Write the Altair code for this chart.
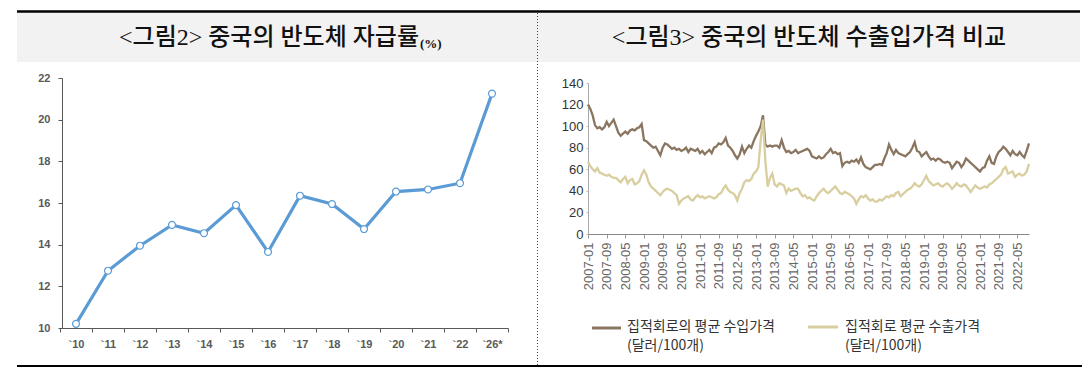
import json
import altair as alt
import pandas as pd

# ---------------- data ----------------
years = ["`10", "`11", "`12", "`13", "`14", "`15", "`16", "`17", "`18", "`19",
         "`20", "`21", "`22", "`26*"]
self_sufficiency = [10.2, 12.75, 13.95, 14.95, 14.55, 15.9, 13.65, 16.35, 15.95,
                    14.75, 16.55, 16.65, 16.95, 21.25]

# monthly, 2007-01 .. 2022-10
import_price = [
    120, 116, 110, 101, 98, 99, 97, 99, 104, 100, 103, 106,
    100, 94, 91, 93, 95, 93, 96, 97, 96, 98, 99, 102,
    87, 86, 84, 82, 80, 81, 77, 73, 80, 84, 83, 81,
    79, 80, 78, 79, 77, 78, 80, 76, 79, 78, 77, 79,
    75, 77, 74, 76, 78, 75, 80, 81, 84, 83, 85, 89,
    82, 80, 77, 73, 70, 74, 81, 75, 79, 82, 80, 86,
    91, 95, 100, 110, 83, 81, 82, 81, 82, 82, 80, 87,
    80, 76, 77, 75, 76, 78, 75, 76, 77, 78, 79, 77,
    72, 71, 70, 72, 70, 71, 74, 76, 79, 75, 76, 74,
    75, 63, 66, 67, 66, 68, 67, 69, 66, 71, 65, 62,
    61, 60, 62, 64, 64, 65, 64, 70, 75, 83, 78, 74,
    78, 75, 74, 73, 72, 74, 76, 80, 85, 77, 76, 72,
    74, 76, 72, 69, 70, 68, 70, 69, 67, 66, 67, 66,
    61, 64, 67, 66, 62, 65, 70, 68, 66, 64, 62, 60,
    58, 61, 62, 68, 72, 66, 65, 72, 76, 78, 81, 79,
    76, 73, 77, 74, 73, 76, 73, 71, 77, 84,
]
export_price = [
    67, 63, 60, 58, 61, 57, 56, 55, 54, 55, 53, 52,
    52, 50, 48, 51, 53, 47, 50, 51, 46, 47, 49, 55,
    59, 55, 48, 44, 42, 40, 38, 36, 39, 41, 42, 41,
    40, 38, 36, 28, 31, 33, 34, 35, 32, 31, 34, 36,
    34, 35, 33, 34, 35, 34, 33, 34, 37, 38, 42, 45,
    41, 39, 38, 36, 31, 38, 42, 48, 50, 49, 51, 56,
    58, 62, 87, 106, 68, 44, 52, 56, 46, 44, 47, 46,
    45, 38, 42, 40, 41, 42, 42, 38, 35, 36, 33, 34,
    32, 31, 35, 38, 40, 42, 39, 38, 40, 42, 44, 41,
    38, 37, 39, 38, 37, 35, 33, 28, 32, 35, 34, 36,
    33, 31, 32, 30, 30, 32, 31, 33, 35, 34, 36, 35,
    38, 39, 35, 37, 39, 41, 42, 44, 47, 45, 44, 46,
    50, 54, 49, 47, 45, 46, 47, 45, 44, 46, 47, 45,
    42, 44, 47, 45, 44, 46, 45, 42, 39, 42, 45, 43,
    42, 43, 44, 43, 46, 47, 49, 51, 53, 55, 60, 62,
    56, 57, 58, 53, 55, 56, 54, 55, 58, 65,
]
month_tick_labels = ["2007-01", "2007-09", "2008-05", "2009-01", "2009-09", "2010-05",
                     "2011-01", "2011-09", "2012-05", "2013-01", "2013-09", "2014-05",
                     "2015-01", "2015-09", "2016-05", "2017-01", "2017-09", "2018-05",
                     "2019-01", "2019-09", "2020-05", "2021-01", "2021-09", "2022-05"]
series_names = ["집적회로의 평균 수입가격", "집적회로 평균 수출가격"]
series_colors = ["#8a7660", "#d8cea0"]
unit_label = "(달러/100개)"
title_left = "<그림2> 중국의 반도체 자급률"
title_left_unit = "(%)"
title_right = "<그림3> 중국의 반도체 수출입가격 비교"

W, H = 1090, 376
CJK = "Noto Sans CJK KR"
TITLE_FONT = "Liberation Serif, Noto Sans CJK KR"

one = pd.DataFrame({"k": [0]})


def text_mark(txt, x, y, size, align="left", baseline="middle", font=CJK, color="#222",
              weight="normal"):
    return alt.Chart(pd.DataFrame({"t": [txt]})).mark_text(
        font=font, fontSize=size, align=align, baseline=baseline, color=color,
        fontWeight=weight
    ).encode(text="t:N", x=alt.value(x), y=alt.value(y))


def hrule(x1, x2, y, color, width):
    return alt.Chart(one).mark_rule(color=color, strokeWidth=width).encode(
        x=alt.value(x1), x2=alt.value(x2), y=alt.value(y))


# ---------------- decorations ----------------
header = alt.Chart(one).mark_rect(color="#f2f2f2").encode(
    x=alt.value(17), x2=alt.value(1080), y=alt.value(13), y2=alt.value(62))
top_line = hrule(17, 1080, 11.5, "black", 2.5)
bottom_line = hrule(17, 1082, 366, "black", 2)
divider = alt.Chart(one).mark_rule(color="#444", strokeWidth=1, strokeDash=[1, 2]).encode(
    x=alt.value(537.5), y=alt.value(13), y2=alt.value(366))

t1 = text_mark(title_left, 419, 38, 24, align="right", font=TITLE_FONT, color="#111",
               weight=500)
t1u = text_mark(title_left_unit, 420, 44, 13, align="left", font=TITLE_FONT, color="#111",
                weight="bold")
t2 = text_mark(title_right, 809, 38, 24, align="center", font=TITLE_FONT, color="#111",
               weight=500)

# legend for right panel
leg = [
    hrule(592, 621, 328, series_colors[0], 3),
    text_mark(series_names[0], 627, 327, 14, color="#333"),
    text_mark(unit_label, 627, 346, 14, color="#333"),
    hrule(808, 838, 327, series_colors[1], 3),
    text_mark(series_names[1], 845, 327, 14, color="#333"),
    text_mark(unit_label, 845, 346, 14, color="#333"),
]

# ---------------- left panel ----------------
left_df = pd.DataFrame({"year": years, "rate": self_sufficiency})
blue = "#5B9BD5"
left = alt.Chart(left_df).mark_line(
    color=blue, strokeWidth=3.2,
    point=alt.OverlayMarkDef(shape="circle", filled=True, fill="white", stroke=blue,
                             strokeWidth=1.2, size=48, opacity=1),
).encode(
    x=alt.X("year:O", sort=years, bandPosition=0.5,
            scale=alt.Scale(type="band", range=[60, 508], paddingInner=0, paddingOuter=0),
            axis=alt.Axis(orient="bottom", offset=-(H - 328), title=None, labelAngle=0,
                          tickBand="extent", tickSize=4, tickColor="#595959",
                          domainColor="#595959", labelColor="#595959", labelFontSize=11,
                          labelFontWeight="bold", labelFont="Liberation Sans",
                          labelPadding=6)),
    y=alt.Y("rate:Q",
            scale=alt.Scale(domain=[10, 22], range=[328, 78], nice=False, zero=False),
            axis=alt.Axis(orient="left", offset=-62, title=None, grid=False,
                          values=[10, 12, 14, 16, 18, 20, 22], tickSize=4,
                          tickColor="#595959", domainColor="#595959",
                          labelColor="#595959", labelFontSize=11, labelFontWeight="bold",
                          labelFont="Liberation Sans", labelPadding=8)),
)

# ---------------- right panel ----------------
n = len(import_price)
right_df = pd.DataFrame({
    "m": list(range(n)) * 2,
    "v": import_price + export_price,
    "s": [series_names[0]] * n + [series_names[1]] * len(export_price),
})
label_expr = json.dumps(month_tick_labels, ensure_ascii=False) + "[round(datum.value / 8)]"
right = alt.Chart(right_df).mark_line(strokeWidth=2.3).encode(
    x=alt.X("m:Q",
            scale=alt.Scale(domain=[0, n - 1], range=[588, 1029], nice=False, zero=False),
            axis=alt.Axis(orient="bottom", offset=-(H - 234), title=None, grid=False,
                          values=[8 * i for i in range(len(month_tick_labels))],
                          labelExpr=label_expr, labelAngle=270, labelAlign="right",
                          labelBaseline="middle", tickSize=4, tickColor="#999",
                          domainColor="#888", labelColor="#666", labelFontSize=13,
                          labelFont="Liberation Sans", labelPadding=4)),
    y=alt.Y("v:Q",
            scale=alt.Scale(domain=[0, 140], range=[234, 83], nice=False),
            axis=alt.Axis(orient="left", offset=-588, title=None, grid=False,
                          values=[0, 20, 40, 60, 80, 100, 120, 140], tickSize=2,
                          tickColor="#bbb", domainColor="#aaa", labelColor="#333",
                          labelFontSize=13, labelFont="Liberation Sans", labelPadding=3)),
    color=alt.Color("s:N", scale=alt.Scale(domain=series_names, range=series_colors),
                    legend=None),
    order=alt.Order("m:Q"),
)

chart = alt.layer(
    header, top_line, bottom_line, divider, t1, t1u, t2, *leg, left, right
).resolve_scale(
    x="independent", y="independent"
).resolve_axis(
    x="independent", y="independent"
).properties(
    width=W, height=H, autosize=alt.AutoSizeParams(type="none"), padding=0,
    background="white",
).configure_view(stroke=None)

chart.save("out.html", embed_options={"renderer": "svg", "actions": False})
